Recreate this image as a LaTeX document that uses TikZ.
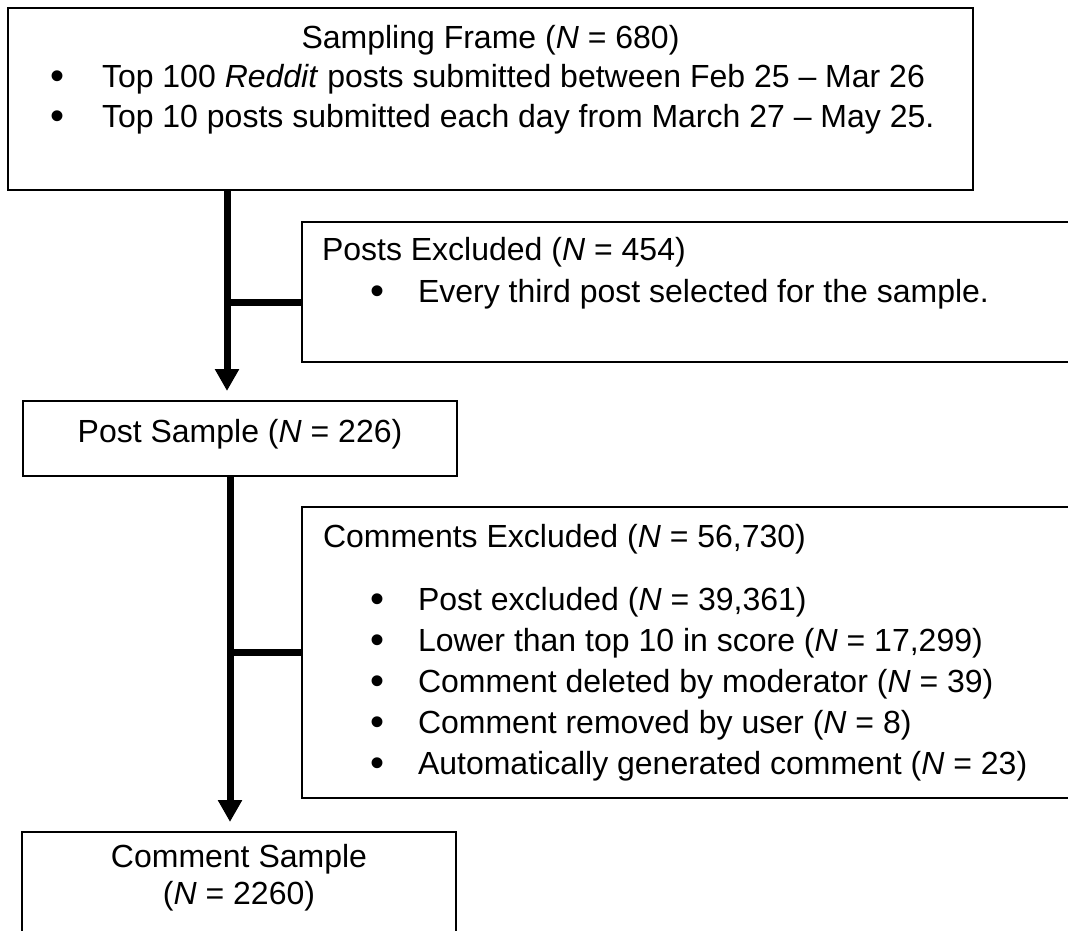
\documentclass[tikz,border=0pt]{standalone}
\usepackage{fontspec}
\setmainfont{Liberation Sans}
\usetikzlibrary{arrows.meta}
\begin{document}
\begin{tikzpicture}[x=1pt,y=-1pt,
  box/.style={draw=black, line width=1.3pt, fill=white, inner sep=0pt, outer sep=0pt, anchor=north west},
  txt/.style={inner sep=0pt, outer sep=0pt, font=\fontsize{32}{38}\selectfont},
  lbl/.style={txt, anchor=base west},
  ctr/.style={txt, anchor=base},
  bul/.style={inner sep=0pt, outer sep=0pt, anchor=base, yshift=-2pt, font=\fontsize{40}{40}\selectfont},
  flow/.style={line width=7pt, -{Triangle[width=23pt,length=22pt]}},
  branch/.style={line width=7pt}]
\clip (0,0) rectangle (1068,931);
\fill[white] (0,0) rectangle (1068,931);

% arrow tips of the two trunks
\coordinate (tip1) at (227,391);
\coordinate (tip2) at (230,822);

% boxes
\node[box, minimum width=965pt, minimum height=182pt] (frame) at (8,8) {};
\node[box, minimum width=780pt, minimum height=140pt] (postsx) at (302,222) {};
\node[box, minimum width=434pt, minimum height=75pt] (postsample) at (23,401) {};
\node[box, minimum width=780pt, minimum height=291pt] (commx) at (302,507) {};
\node[box, minimum width=434pt, minimum height=130pt] (commsample) at (22,832) {};

% trunks and branches
\draw[flow] (frame.south -| tip1) -- (tip1);
\draw[branch] ([yshift=-10pt]postsx.west) -- ([yshift=-10pt]postsx.west -| tip1);
\draw[flow] (postsample.south -| tip2) -- (tip2);
\draw[branch] (commx.west) -- (commx.west -| tip2);

% sampling frame
\node[ctr] (t-frame) at (490.5,49) {Sampling Frame (\textit{N} = 680)};
\node[bul] (b-f1) at (58,88) {•};
\node[lbl] (t-f1) at (102,88) {Top 100 \textit{Reddit} posts submitted between Feb 25 – Mar 26};
\node[bul] (b-f2) at (58,128) {•};
\node[lbl] (t-f2) at (102,128) {Top 10 posts submitted each day from March 27 – May 25.};

% posts excluded
\node[lbl] (t-px) at (322,260) {Posts Excluded (\textit{N} = 454)};
\node[bul] (b-px1) at (377,302) {•};
\node[lbl] (t-px1) at (418,302) {Every third post selected for the sample.};

% post sample
\node[ctr] (t-ps) at (240,442) {Post Sample (\textit{N} = 226)};

% comments excluded
\node[lbl] (t-cx) at (323,547) {Comments Excluded (\textit{N} = 56,730)};
\node[bul] (b-cx1) at (377,610) {•};
\node[lbl] (t-cx1) at (418,610) {Post excluded (\textit{N} = 39,361)};
\node[bul] (b-cx2) at (377,651) {•};
\node[lbl] (t-cx2) at (418,651) {Lower than top 10 in score (\textit{N} = 17,299)};
\node[bul] (b-cx3) at (377,692) {•};
\node[lbl] (t-cx3) at (418,692) {Comment deleted by moderator (\textit{N} = 39)};
\node[bul] (b-cx4) at (377,733) {•};
\node[lbl] (t-cx4) at (418,733) {Comment removed by user (\textit{N} = 8)};
\node[bul] (b-cx5) at (377,774) {•};
\node[lbl] (t-cx5) at (418,774) {Automatically generated comment (\textit{N} = 23)};

% comment sample
\node[ctr] (t-cs1) at (239,867) {Comment Sample};
\node[ctr] (t-cs2) at (239,904) {(\textit{N} = 2260)};
\end{tikzpicture}
\end{document}
